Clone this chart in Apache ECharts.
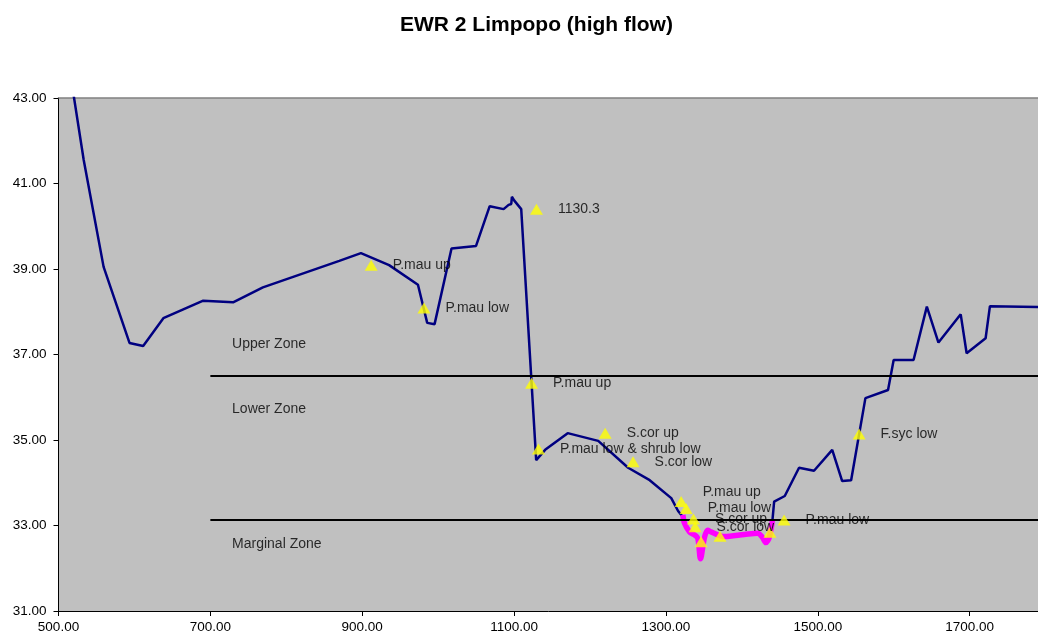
<!DOCTYPE html>
<html>
<head>
<meta charset="utf-8">
<script src="https://cdn.jsdelivr.net/npm/echarts@6/dist/echarts.min.js"></script>
<style>
  html, body { margin: 0; padding: 0; background: #fff; }
  #chart { width: 1038px; height: 635px; }
</style>
</head>
<body>
<div id="chart"></div>
<script>
// river bed profile (chainage, level)
var bedX = [517, 533.2, 559.4, 593.5, 611.5, 638.1, 690.6, 729.9, 769.2, 869.8, 898.3, 935.4, 973.4, 985.6, 995.3,
  1017.6, 1049.9, 1067.9, 1086.2, 1092.8, 1096.3, 1097.1, 1100.3, 1109.4, 1129.1, 1140.9, 1170.6, 1210.8, 1250.2,
  1278.6, 1307, 1316, 1322.3, 1324.5, 1331.1, 1337.6, 1342, 1345.5, 1350.7, 1355.1, 1359.4, 1377, 1403.2, 1420.7,
  1427.2, 1431.5, 1436, 1440.3, 1442.5, 1456.5, 1475.3, 1495, 1519, 1532.1, 1543.9, 1562.7, 1592.5, 1599.9,
  1626.1, 1643.6, 1658.9, 1688.2, 1696, 1721, 1726.7, 1795];
var bedY = [43.4, 41.55, 39.05, 37.27, 37.2, 37.85, 38.26, 38.22, 38.57, 39.19, 39.37, 39.09, 38.63, 37.74, 37.71,
  39.48, 39.54, 40.47, 40.40, 40.50, 40.52, 40.69, 40.6, 40.40, 34.53, 34.77, 35.16, 34.98, 34.35,
  34.06, 33.64, 33.34, 33.2, 33.05, 32.85, 32.78, 32.7, 32.22, 32.72, 32.89, 32.85, 32.74, 32.79, 32.82,
  32.72, 32.6, 32.72, 33.13, 33.56, 33.69, 34.35, 34.28, 34.77, 34.04, 34.06, 35.98, 36.17, 36.87,
  36.87, 38.12, 37.28, 37.94, 37.03, 37.38, 38.13, 38.11];

// water surface (high flow)
var waterX = [1322.3, 1324.5, 1331.1, 1337.6, 1342, 1345.5, 1350.7, 1355.1, 1359.4, 1377, 1403.2, 1420.7, 1427.2, 1431.5, 1436, 1440.3];
var waterY = [33.25, 33.05, 32.85, 32.78, 32.7, 32.22, 32.72, 32.89, 32.85, 32.74, 32.79, 32.82, 32.72, 32.6, 32.72, 33.13];

// vegetation markers
var markerX = [911.8, 981.3, 1129.5, 1123, 1132.1, 1220, 1256.7, 1320, 1326.6, 1336.3, 1338.4, 1346.3, 1371.2, 1437, 1455.6, 1554.4];
var markerY = [39.09, 38.09, 40.40, 36.33, 34.79, 35.16, 34.49, 33.56, 33.40, 33.15, 32.97, 32.62, 32.75, 32.84, 33.13, 35.14];
var markerNames = ['P.mau up', 'P.mau low', '1130.3', 'P.mau up', 'P.mau low & shrub low', 'S.cor up', 'S.cor low',
  'P.mau up', 'P.mau low', 'S.cor up', 'S.cor low', '', '', '', 'P.mau low', 'F.syc low'];

// zone boundaries
var zoneStart = 700;
var zoneEnd = 1795;
var zoneLevels = [36.5, 33.13];
var zoneNames = ['Upper Zone', 'Lower Zone', 'Marginal Zone'];
var zoneLabelX = [728.6, 728.6, 728.6];
var zoneLabelY = [37.25, 35.73, 32.57];

var FONT = "'Liberation Sans', Arial, sans-serif";

function pairs(xs, ys) {
  var out = [];
  for (var i = 0; i < xs.length; i++) out.push([xs[i], ys[i]]);
  return out;
}

var markerData = [];
for (var i = 0; i < markerX.length; i++) {
  var item = { value: [markerX[i], markerY[i]], name: markerNames[i] };
  if (i === 7) item.label = { offset: [0, -9] };
  markerData.push(item);
}

var zoneLabelData = [];
for (var i = 0; i < zoneNames.length; i++) {
  zoneLabelData.push({ value: [zoneLabelX[i], zoneLabelY[i]], name: zoneNames[i] });
}

var zoneSeries = zoneLevels.map(function (lv) {
  return {
    type: 'line',
    data: [[zoneStart, lv], [zoneEnd, lv]],
    symbol: 'none',
    lineStyle: { color: '#000', width: 2 },
    z: 4,
    silent: true
  };
});

var chart = echarts.init(document.getElementById('chart'));
chart.setOption({
  animation: false,
  backgroundColor: '#fff',
  textStyle: { fontFamily: FONT },
  title: {
    text: 'EWR 2 Limpopo (high flow)',
    left: 395,
    top: 10,
    textStyle: { fontSize: 21, fontWeight: 'bold', color: '#000', fontFamily: FONT }
  },
  grid: {
    left: 58.5,
    width: 984.7,
    top: 98,
    bottom: 24,
    show: true,
    backgroundColor: '#c0c0c0',
    borderWidth: 0
  },
  xAxis: [{
    type: 'value',
    min: 500,
    max: 1790,
    interval: 200,
    splitLine: { show: false },
    axisLine: { lineStyle: { color: '#000', width: 1 } },
    axisTick: { length: 5, lineStyle: { color: '#000' } },
    axisLabel: {
      showMaxLabel: false,
      margin: 9,
      color: '#000',
      fontSize: 13.5,
      fontFamily: FONT,
      formatter: function (v) { return v.toFixed(2); }
    }
  }, {
    // plot frame top edge
    type: 'value',
    position: 'top',
    min: 500,
    max: 1790,
    interval: 200,
    splitLine: { show: false },
    axisLine: { show: true, lineStyle: { color: '#808080', width: 1.5 } },
    axisTick: { show: false },
    axisLabel: { show: false }
  }],
  yAxis: {
    type: 'value',
    min: 31,
    max: 43,
    interval: 2,
    splitLine: { show: false },
    axisLine: { show: true, lineStyle: { color: '#000', width: 1 } },
    axisTick: { show: true, length: 5, lineStyle: { color: '#000' } },
    axisLabel: {
      margin: 12,
      color: '#000',
      fontSize: 13.5,
      fontFamily: FONT,
      formatter: function (v) { return v.toFixed(2); }
    }
  },
  series: [
    {
      type: 'line',
      data: pairs(bedX, bedY),
      symbol: 'none',
      lineStyle: { color: '#000080', width: 2.5 },
      z: 2
    },
    {
      type: 'line',
      data: pairs(waterX, waterY),
      symbol: 'none',
      smooth: 0.3,
      lineStyle: { color: '#ff00ff', width: 5.5 },
      z: 3
    }
  ].concat(zoneSeries).concat([
    {
      type: 'scatter',
      data: markerData,
      symbol: 'triangle',
      symbolSize: [13, 11],
      itemStyle: { color: '#ffff00' },
      label: {
        show: true,
        position: 'right',
        distance: 15,
        formatter: '{b}',
        color: '#000',
        fontSize: 14,
        fontFamily: FONT
      },
      z: 6
    },
    {
      type: 'scatter',
      data: zoneLabelData,
      symbolSize: 0,
      label: {
        show: true,
        position: 'right',
        distance: 0,
        formatter: '{b}',
        color: '#000',
        fontSize: 14,
        fontFamily: FONT
      },
      z: 7,
      silent: true
    }
  ])
});
</script>
</body>
</html>
